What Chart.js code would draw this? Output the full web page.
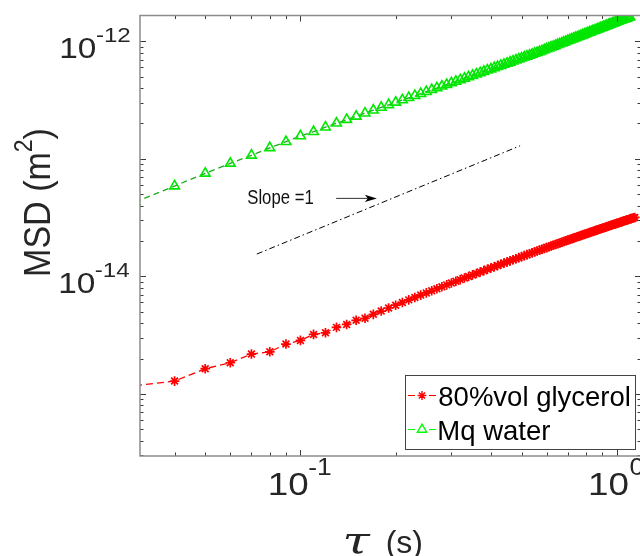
<!DOCTYPE html>
<html><head><meta charset="utf-8">
<script src="https://cdn.jsdelivr.net/npm/chart.js@4.4.1/dist/chart.umd.min.js"></script>
<style>html,body{margin:0;padding:0;overflow:hidden;background:#fff;width:640px;height:556px}canvas{display:block}</style>
</head><body>
<canvas id="c" width="660" height="556"></canvas>
<script>
// ---- data (tau in s, MSD in m^2) ----
const tau = [0.03,0.04,0.05,0.06,0.07,0.08,0.09,0.10,0.11,0.12,0.13,0.14,0.15,0.16,0.17,0.18,0.19,0.20,
0.21,0.22,0.23,0.24,0.25,0.26,0.27,0.28,0.29,0.30,0.31,0.32,0.33,0.34,0.35,0.36,0.37,0.38,0.39,0.40,
0.41,0.42,0.43,0.44,0.45,0.46,0.47,0.48,0.49,0.50,0.51,0.52,0.53,0.54,0.55,0.56,0.57,0.58,0.59,0.60,
0.61,0.62,0.63,0.64,0.65,0.66,0.67,0.68,0.69,0.70,0.71,0.72,0.73,0.74,0.75,0.76,0.77,0.78,0.79,0.80,
0.81,0.82,0.83,0.84,0.85,0.86,0.87,0.88,0.89,0.90,0.91,0.92,0.93,0.94,0.95,0.96,0.97,0.98,0.99,1.00,
1.01,1.02,1.03,1.04,1.05,1.06,1.07,1.08,1.09,1.10,1.11,1.12,1.13,1.14];
const glycerolMSD = [1.175e-15,1.285e-15,1.637e-15,1.841e-15,2.183e-15,2.280e-15,2.655e-15,2.851e-15,
3.206e-15,3.311e-15,3.681e-15,3.899e-15,4.227e-15,4.395e-15,4.753e-15,5.066e-15,5.378e-15,5.686e-15,
5.998e-15,6.309e-15,6.618e-15,6.928e-15,7.236e-15,7.545e-15,7.853e-15,8.159e-15,8.465e-15,8.772e-15,
9.078e-15,9.382e-15,9.685e-15,9.989e-15,1.029e-14,1.059e-14,1.089e-14,1.119e-14,1.149e-14,1.179e-14,
1.209e-14,1.238e-14,1.268e-14,1.297e-14,1.326e-14,1.356e-14,1.385e-14,1.414e-14,1.443e-14,1.472e-14,
1.501e-14,1.530e-14,1.558e-14,1.587e-14,1.616e-14,1.644e-14,1.672e-14,1.701e-14,1.729e-14,1.758e-14,
1.785e-14,1.814e-14,1.842e-14,1.870e-14,1.897e-14,1.925e-14,1.953e-14,1.980e-14,2.007e-14,2.035e-14,
2.062e-14,2.089e-14,2.116e-14,2.143e-14,2.171e-14,2.197e-14,2.224e-14,2.251e-14,2.278e-14,2.305e-14,
2.331e-14,2.358e-14,2.384e-14,2.411e-14,2.437e-14,2.463e-14,2.489e-14,2.516e-14,2.541e-14,2.568e-14,
2.593e-14,2.619e-14,2.645e-14,2.671e-14,2.696e-14,2.723e-14,2.748e-14,2.774e-14,2.800e-14,2.824e-14,
2.850e-14,2.875e-14,2.900e-14,2.926e-14,2.950e-14,2.976e-14,3.001e-14,3.026e-14,3.051e-14,3.075e-14,
3.100e-14,3.125e-14,3.150e-14,3.174e-14];
const waterMSD = [4.28e-14,5.87e-14,7.53e-14,9.16e-14,1.072e-13,1.242e-13,1.400e-13,1.567e-13,
1.702e-13,1.862e-13,2.009e-13,2.158e-13,2.301e-13,2.449e-13,2.594e-13,2.742e-13,2.884e-13,3.027e-13,
3.170e-13,3.311e-13,3.451e-13,3.589e-13,3.733e-13,3.873e-13,4.009e-13,4.150e-13,4.285e-13,4.426e-13,
4.560e-13,4.699e-13,4.842e-13,4.977e-13,5.117e-13,5.260e-13,5.395e-13,5.534e-13,5.675e-13,5.808e-13,
5.957e-13,6.095e-13,6.223e-13,6.368e-13,6.501e-13,6.637e-13,6.776e-13,6.918e-13,7.063e-13,7.194e-13,
7.328e-13,7.464e-13,7.603e-13,7.745e-13,7.889e-13,8.017e-13,8.147e-13,8.299e-13,8.453e-13,8.610e-13,
8.750e-13,8.913e-13,9.057e-13,9.204e-13,9.354e-13,9.506e-13,9.661e-13,9.817e-13,9.954e-13,1.012e-12,
1.026e-12,1.042e-12,1.057e-12,1.072e-12,1.086e-12,1.102e-12,1.117e-12,1.132e-12,1.148e-12,1.164e-12,
1.178e-12,1.194e-12,1.208e-12,1.225e-12,1.239e-12,1.253e-12,1.271e-12,1.285e-12,1.300e-12,1.315e-12,
1.330e-12,1.346e-12,1.361e-12,1.377e-12,1.393e-12,1.406e-12,1.422e-12,1.439e-12,1.452e-12,1.469e-12,
1.483e-12,1.500e-12,1.514e-12,1.528e-12,1.542e-12,1.556e-12,1.570e-12,1.585e-12,1.599e-12,1.614e-12];
const seriesNames = ['80%vol glycerol', 'Mq water'];
const xRange = [0.0311, 1.193];
const yRange = [2.96e-16, 1.66e-12];
const xLabeledTicks = [0.1, 1];
const xTickLabels = [['10', '-1'], ['10', '0']];
const yLabeledTicks = [1e-14, 1e-12];
const yTickLabels = [['10', '-14'], ['10', '-12']];
const slopeLineTau = [0.0728, 0.4948];
const slopeLineMSD = [1.549e-14, 1.292e-13];
const slopeText = 'Slope =1';
const slopeTextAt = [0.0679, 4.12e-14];
const arrowTau = [0.1297, 0.1744];
const arrowMSD = 4.61e-14;

const SANS = '"Liberation Sans", Arial, sans-serif';

function inkW(ctx, s, font, sx) {
  ctx.font = font; const m = ctx.measureText(s);
  return (m.actualBoundingBoxLeft + m.actualBoundingBoxRight) * sx;
}
function inkText(ctx, s, font, sx, left, base) {
  ctx.font = font; const m = ctx.measureText(s);
  ctx.save(); ctx.translate(left + m.actualBoundingBoxLeft * sx, base); ctx.scale(sx, 1);
  ctx.fillText(s, 0, 0); ctx.restore();
}
function drawStar(ctx, x, y, r) {
  ctx.beginPath();
  for (let i = 0; i < 4; i++) { const a = i * Math.PI / 4; const dx = Math.cos(a) * r, dy = Math.sin(a) * r;
    ctx.moveTo(x - dx, y - dy); ctx.lineTo(x + dx, y + dy); }
  ctx.stroke();
}
function drawTri(ctx, x, y, r) {
  ctx.beginPath();
  for (let i = 0; i < 3; i++) { const a = i * 2 * Math.PI / 3; const px = x + Math.sin(a) * r, py = y - Math.cos(a) * r;
    if (i === 0) ctx.moveTo(px, py); else ctx.lineTo(px, py); }
  ctx.closePath(); ctx.stroke();
}

const matlabAxes = {
  id: 'matlabAxes',
  afterDraw(chart) {
    const { ctx, chartArea: a } = chart; const xs = chart.scales.x, ys = chart.scales.y;
    ctx.save();
    ctx.textAlign = 'left'; ctx.textBaseline = 'alphabetic';
    // ticks
    ctx.strokeStyle = '#3a3a3a'; ctx.lineWidth = 1; ctx.setLineDash([]);
    ctx.beginPath();
    for (let e = -2; e <= 0; e++) for (let k = 1; k <= 9; k++) {
      const v = k * Math.pow(10, e); if (v < xRange[0] || v > xRange[1]) continue;
      const p = Math.round(xs.getPixelForValue(v)) + 0.5, L = k === 1 ? 6 : 3.5;
      ctx.moveTo(p, a.bottom); ctx.lineTo(p, a.bottom - L); ctx.moveTo(p, a.top); ctx.lineTo(p, a.top + L);
    }
    for (let e = -16; e <= -12; e++) for (let k = 1; k <= 9; k++) {
      const v = k * Math.pow(10, e); if (v < yRange[0] || v > yRange[1]) continue;
      const p = Math.round(ys.getPixelForValue(v)) + 0.5, L = k === 1 ? 6 : 3.5;
      ctx.moveTo(a.left, p); ctx.lineTo(a.left + L, p); ctx.moveTo(a.right, p); ctx.lineTo(a.right - L, p);
    }
    ctx.stroke();
    // box
    ctx.strokeStyle = '#8c8c8c'; ctx.lineWidth = 1.5;
    ctx.strokeRect(a.left, a.top, a.right - a.left, a.bottom - a.top);
    // tick labels
    ctx.fillStyle = '#262626';
    yLabeledTicks.forEach((v, i) => {
      const p = ys.getPixelForValue(v);
      const fM = '29px ' + SANS, fS = '21px ' + SANS, sx = 1.15;
      const ws = inkW(ctx, yTickLabels[i][1], fS, sx), wm = inkW(ctx, yTickLabels[i][0], fM, sx);
      const supLeft = a.left - 10 - ws;
      inkText(ctx, yTickLabels[i][1], fS, sx, supLeft, p + 0.2);
      inkText(ctx, yTickLabels[i][0], fM, sx, supLeft - 0.8 - wm, p + 16.2);
    });
    xLabeledTicks.forEach((v, i) => {
      const p = xs.getPixelForValue(v);
      const fM = '32px ' + SANS, fS = '23px ' + SANS, sx = 1.15;
      const wm = inkW(ctx, xTickLabels[i][0], fM, sx), ws = inkW(ctx, xTickLabels[i][1], fS, sx);
      const left = p - (wm + 1.5 + ws) / 2;
      inkText(ctx, xTickLabels[i][0], fM, sx, left, a.bottom + 39);
      inkText(ctx, xTickLabels[i][1], fS, sx, left + wm + 1.5, a.bottom + 19);
    });
    // x axis title
    const fTau = 'italic 38px "DejaVu Serif", serif';
    const tauW = inkW(ctx, '\u03c4', fTau, 1);
    inkText(ctx, '\u03c4', fTau, Math.min(1.3, 29 / tauW), 345, 553);
    inkText(ctx, '(s)', '32px ' + SANS, 1, 386.7, 553);
    // y axis title
    ctx.save();
    ctx.translate(50, 202.5); ctx.rotate(-Math.PI / 2);
    const f1 = '37px ' + SANS, f2 = '25px ' + SANS;
    ctx.font = f1; const wA = ctx.measureText('MSD (m').width, wC = ctx.measureText(')').width;
    ctx.font = f2; const wB = ctx.measureText('2').width;
    const W = wA + wB + wC, s = 0.92;
    ctx.scale(s, 1);
    const x0 = -W / 2;
    ctx.font = f1; ctx.fillText('MSD (m', x0, 0);
    ctx.font = f2; ctx.fillText('2', x0 + wA, -18.3);
    ctx.font = f1; ctx.fillText(')', x0 + wA + wB, 0);
    ctx.restore();
    // slope annotation
    ctx.fillStyle = '#111';
    const tx = xs.getPixelForValue(slopeTextAt[0]), ty = ys.getPixelForValue(slopeTextAt[1]);
    const fT = '19.5px ' + SANS; const natW = inkW(ctx, slopeText, fT, 1);
    inkText(ctx, slopeText, fT, 65.7 / natW, tx, ty);
    const ax1 = xs.getPixelForValue(arrowTau[0]), ax2 = xs.getPixelForValue(arrowTau[1]), ay = ys.getPixelForValue(arrowMSD);
    ctx.strokeStyle = '#333'; ctx.lineWidth = 1;
    ctx.beginPath(); ctx.moveTo(ax1, ay); ctx.lineTo(ax2 - 8, ay); ctx.stroke();
    ctx.fillStyle = '#000';
    ctx.beginPath(); ctx.moveTo(ax2, ay); ctx.lineTo(ax2 - 12, ay - 3.6); ctx.lineTo(ax2 - 9, ay); ctx.lineTo(ax2 - 12, ay + 3.6); ctx.closePath(); ctx.fill();
    // legend
    const lx = 405.5, ly = 375.5, lw = 230, lh = 74;
    ctx.fillStyle = '#fff'; ctx.fillRect(lx, ly, lw, lh);
    ctx.strokeStyle = '#444'; ctx.lineWidth = 1; ctx.strokeRect(lx, ly, lw, lh);
    const rows = [{ c: '#ff0000', y: 395.5, base: 406, mk: 'star' }, { c: '#00ff00', y: 429.5, base: 440, mk: 'tri' }];
    rows.forEach((r, i) => {
      ctx.strokeStyle = r.c; ctx.lineWidth = 1.2;
      ctx.beginPath(); ctx.moveTo(408, r.y); ctx.lineTo(415, r.y); ctx.moveTo(429, r.y); ctx.lineTo(436, r.y); ctx.stroke();
      ctx.lineWidth = 1.4;
      if (r.mk === 'star') drawStar(ctx, 422, r.y, 4.4); else drawTri(ctx, 422, r.y, 5.4);
      ctx.fillStyle = '#000';
      inkText(ctx, seriesNames[i], '27.5px ' + SANS, 1, 439.3, r.base);
    });
    ctx.restore();
  }
};

new Chart(document.getElementById('c'), {
  type: 'line',
  data: {
    datasets: [
      { label: seriesNames[0], data: glycerolMSD.map((v, i) => ({ x: tau[i], y: v })),
        borderColor: '#ff0000', borderWidth: 1.3, borderDash: [7, 4], tension: 0,
        pointStyle: 'star', pointRadius: 4.8, pointBorderColor: '#ff0000', pointBorderWidth: 1.7,
        pointBackgroundColor: 'rgba(0,0,0,0)', pointHoverRadius: 4.8 },
      { label: seriesNames[1], data: waterMSD.map((v, i) => ({ x: tau[i], y: v })),
        borderColor: '#1fa81f', borderWidth: 1.3, borderDash: [6, 4], tension: 0,
        pointStyle: 'triangle', pointRadius: 5.6, pointBorderColor: '#00e600', pointBorderWidth: 1.6,
        pointBackgroundColor: 'rgba(0,0,0,0)', pointHoverRadius: 5.6 },
      { label: 'slope', data: slopeLineTau.map((t, i) => ({ x: t, y: slopeLineMSD[i] })),
        borderColor: '#000', borderWidth: 1, borderDash: [6, 3, 1.5, 3], pointRadius: 0, tension: 0 }
    ]
  },
  options: {
    responsive: false, animation: false, events: [],
    layout: { padding: { left: 140, right: 19, top: 15.5, bottom: 100 } },
    plugins: { legend: { display: false }, tooltip: { enabled: false } },
    scales: {
      x: { type: 'logarithmic', display: false, min: xRange[0], max: xRange[1], bounds: 'data' },
      y: { type: 'logarithmic', display: false, min: yRange[0], max: yRange[1], bounds: 'data' }
    }
  },
  plugins: [matlabAxes]
});
</script>
</body></html>
